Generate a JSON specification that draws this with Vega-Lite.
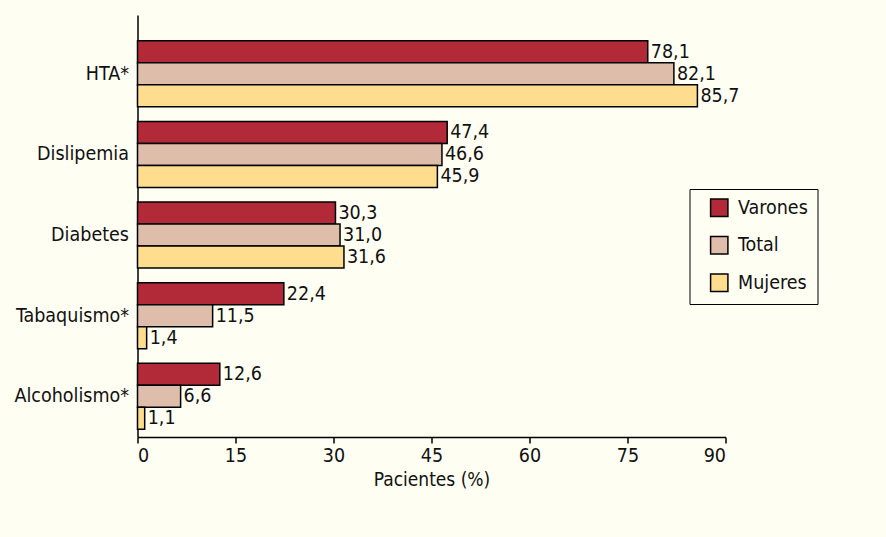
{
  "$schema": "https://vega.github.io/schema/vega-lite/v6.json",
  "autosize": "none",
  "width": 588,
  "height": 422,
  "padding": {"left": 137.5, "top": 15, "right": 160.5, "bottom": 100},
  "background": "#FFFEF3",
  "config": {
    "font": "DejaVu Sans Condensed",
    "view": {"stroke": null},
    "locale": {"number": {"decimal": ",", "thousands": ".", "grouping": [3], "currency": ["", " €"]}},
    "axis": {"labelFont": "DejaVu Sans Condensed", "titleFont": "DejaVu Sans Condensed", "labelColor": "#111", "titleColor": "#111", "domainColor": "#000", "tickColor": "#000", "domainWidth": 1.5, "tickWidth": 1.5, "grid": false, "labelFontSize": 19.5, "titleFontSize": 19, "titleFontWeight": "normal"},
    "legend": {"labelFont": "DejaVu Sans Condensed"}
  },
  "data": {
    "values": [
      {"factor": "HTA*", "grupo": "Varones", "valor": 78.1},
      {"factor": "HTA*", "grupo": "Total", "valor": 82.1},
      {"factor": "HTA*", "grupo": "Mujeres", "valor": 85.7},
      {"factor": "Dislipemia", "grupo": "Varones", "valor": 47.4},
      {"factor": "Dislipemia", "grupo": "Total", "valor": 46.6},
      {"factor": "Dislipemia", "grupo": "Mujeres", "valor": 45.9},
      {"factor": "Diabetes", "grupo": "Varones", "valor": 30.3},
      {"factor": "Diabetes", "grupo": "Total", "valor": 31.0},
      {"factor": "Diabetes", "grupo": "Mujeres", "valor": 31.6},
      {"factor": "Tabaquismo*", "grupo": "Varones", "valor": 22.4},
      {"factor": "Tabaquismo*", "grupo": "Total", "valor": 11.5},
      {"factor": "Tabaquismo*", "grupo": "Mujeres", "valor": 1.4},
      {"factor": "Alcoholismo*", "grupo": "Varones", "valor": 12.6},
      {"factor": "Alcoholismo*", "grupo": "Total", "valor": 6.6},
      {"factor": "Alcoholismo*", "grupo": "Mujeres", "valor": 1.1}
    ]
  },
  "encoding": {
    "y": {
      "field": "factor", "type": "nominal", "sort": null,
      "scale": {"paddingInner": 0.181, "paddingOuter": 0.208, "align": 0.77},
      "axis": {"title": null, "ticks": false, "labelPadding": 9}
    },
    "yOffset": {
      "field": "grupo", "type": "nominal", "sort": ["Varones", "Total", "Mujeres"],
      "scale": {"paddingInner": 0, "paddingOuter": 0}
    },
    "x": {
      "field": "valor", "type": "quantitative",
      "scale": {"domain": [0, 90], "nice": false},
      "axis": {"values": [0, 15, 30, 45, 60, 75, 90], "title": "Pacientes (%)", "tickSize": 6, "labelPadding": 3, "titlePadding": 6, "format": "d"}
    }
  },
  "layer": [
    {
      "mark": {"type": "bar", "stroke": "#000", "strokeWidth": 1.5},
      "encoding": {
        "color": {
          "field": "grupo", "type": "nominal",
          "scale": {"domain": ["Varones", "Total", "Mujeres"], "range": ["#B22A38", "#DEBDAA", "#FFDD8F"]},
          "legend": {
            "title": null, "orient": "none", "legendX": 552, "legendY": 174,
            "symbolType": "square", "symbolSize": 300, "symbolStrokeColor": "#000", "symbolStrokeWidth": 1.5, "symbolOpacity": 1,
            "symbolOffset": 11,
            "labelFontSize": 19.5, "labelColor": "#111", "labelOffset": 9,
            "labelExpr": "datum.label + '\u00a0\u00a0\u00a0'",
            "rowPadding": 13.5, "padding": 9,
            "strokeColor": "#000", "fillColor": "#FFFEF3"
          }
        }
      }
    },
    {
      "mark": {"type": "text", "align": "left", "baseline": "middle", "dx": 3, "fontSize": 19.5, "color": "#111"},
      "encoding": {
        "text": {"field": "valor", "type": "quantitative", "format": ".1f"}
      }
    }
  ]
}
